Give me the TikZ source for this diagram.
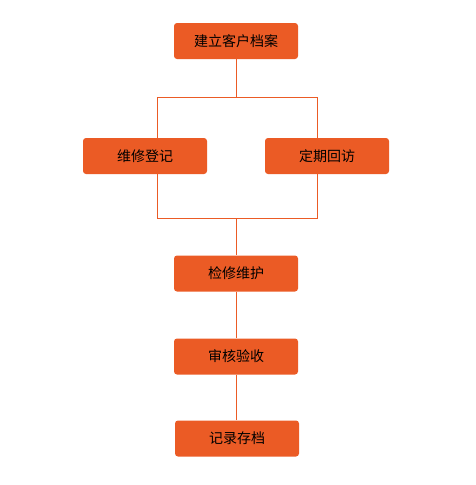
\documentclass[tikz,border=0pt]{standalone}
\usepackage{fontspec}
\newfontfamily\cjk{Noto Sans CJK SC}
\definecolor{orangebox}{RGB}{235,91,37}
\tikzset{
	etape/.style={fill=orangebox, rounded corners=3pt, minimum width=124pt, minimum height=36pt, inner sep=0pt, font=\cjk\fontsize{14}{16}\selectfont, text=black},
	lien/.style={draw=orangebox, line width=1pt}
}
\begin{document}
\begin{tikzpicture}[x=1pt,y=-1pt]
	\useasboundingbox (0,0) rectangle (476,485);
	\node[etape] (dossier) at (236,41) {建立客户档案};
	\node[etape] (registre) at (145,156) {维修登记};
	\node[etape] (visite) at (327,156) {定期回访};
	\node[etape] (entretien) at (236,273.5) {检修维护};
	\node[etape] (recette) at (236,356.5) {审核验收};
	\node[etape] (archive) at (237,438.5) {记录存档};
	\coordinate (hg) at (157,97);
	\coordinate (hd) at (317,97);
	\coordinate (bg) at (157,218);
	\coordinate (bd) at (317,218);
	\draw[lien] (dossier.south) -- (dossier.south |- hg);
	\draw[lien] (hg) -- (hd);
	\draw[lien] (hg) -- (hg |- registre.north);
	\draw[lien] (hd) -- (hd |- visite.north);
	\draw[lien] (bg |- registre.south) -- (bg) -- (bd) -- (bd |- visite.south);
	\draw[lien] (entretien.north |- bg) -- (entretien.north);
	\draw[lien] (entretien.south) -- (recette.north);
	\draw[lien] (recette.south) -- (recette.south |- archive.north);
\end{tikzpicture}
\end{document}
